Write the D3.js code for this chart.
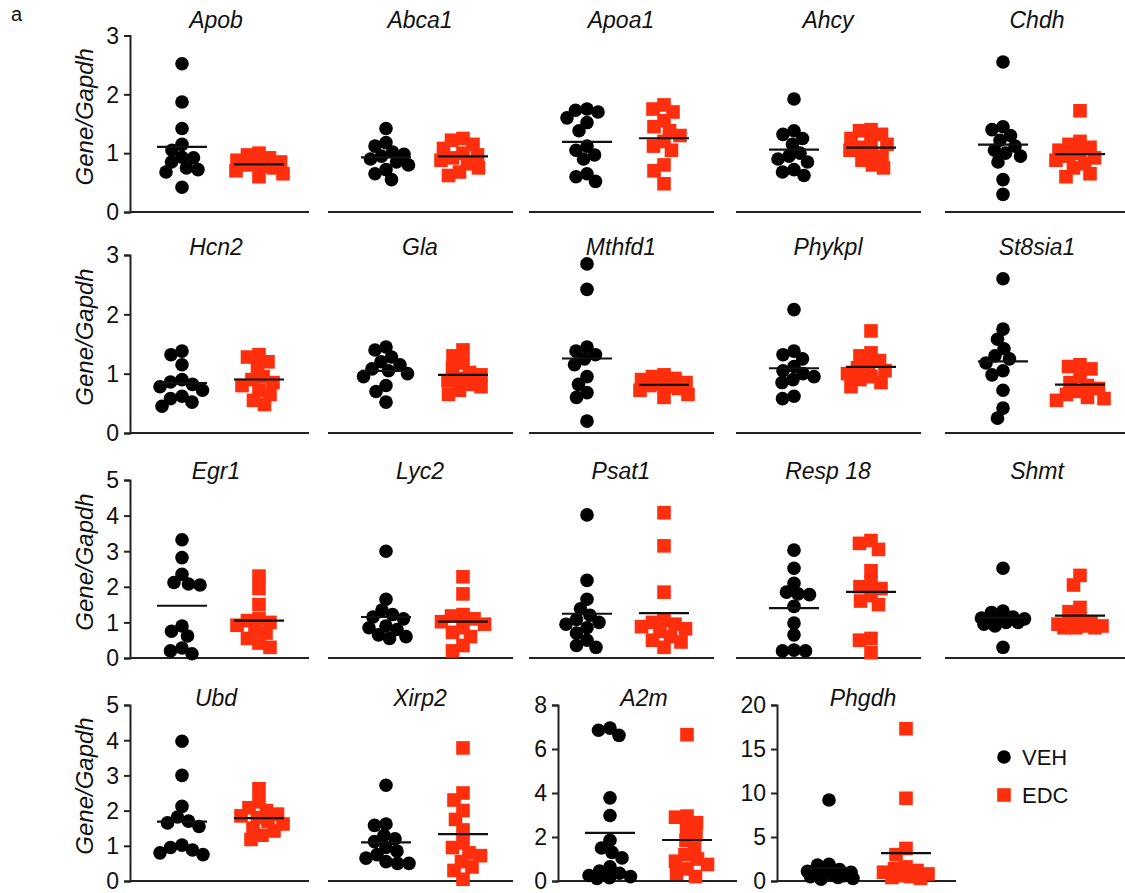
<!DOCTYPE html>
<html><head><meta charset="utf-8">
<script src="https://cdn.jsdelivr.net/npm/d3@7"></script>
<style>
body{margin:0;background:#fff}
svg{display:block}
text{font-family:Arial,"Liberation Sans",Helvetica,sans-serif;fill:#111}
</style>
</head><body>
<svg id="chart" width="1125" height="893"></svg>
<script>
// ---------- DATA ----------
const groups = ["VEH", "EDC"];
const ticks3 = [0, 1, 2, 3];
const ticks5 = [0, 1, 2, 3, 4, 5];
const ticks8 = [0, 2, 4, 6, 8];
const ticks20 = [0, 5, 10, 15, 20];

const row1Genes = ["Apob", "Abca1", "Apoa1", "Ahcy", "Chdh"];
const row2Genes = ["Hcn2", "Gla", "Mthfd1", "Phykpl", "St8sia1"];
const row3Genes = ["Egr1", "Lyc2", "Psat1", "Resp 18", "Shmt"];
const row4Genes = ["Ubd", "Xirp2", "A2m", "Phgdh"];

const apobVEH  = [2.52, 1.87, 1.42, 1.15, 1.05, 0.93, 0.92, 0.85, 0.75, 0.72, 0.68, 0.42];
const apobEDC  = [1.0, 0.97, 0.92, 0.88, 0.85, 0.83, 0.8, 0.78, 0.75, 0.7, 0.65, 0.6];
const abca1VEH = [1.42, 1.18, 1.12, 1.02, 0.98, 0.95, 0.9, 0.85, 0.8, 0.72, 0.65, 0.55];
const abca1EDC = [1.25, 1.22, 1.15, 1.08, 1.0, 0.97, 0.92, 0.88, 0.82, 0.75, 0.68, 0.62];
const apoa1VEH = [1.75, 1.73, 1.7, 1.6, 1.52, 1.38, 1.12, 1.05, 0.97, 0.9, 0.65, 0.6, 0.52];
const apoa1EDC = [1.82, 1.75, 1.7, 1.55, 1.45, 1.38, 1.3, 1.2, 1.12, 1.05, 0.8, 0.7, 0.48];
const ahcyVEH  = [1.92, 1.38, 1.32, 1.25, 1.15, 1.0, 0.95, 0.9, 0.85, 0.72, 0.68, 0.62];
const ahcyEDC  = [1.4, 1.38, 1.32, 1.25, 1.2, 1.15, 1.1, 1.05, 1.0, 0.95, 0.88, 0.8, 0.75];
const chdhVEH  = [2.55, 1.45, 1.4, 1.3, 1.22, 1.12, 1.05, 1.0, 0.95, 0.85, 0.55, 0.3];
const chdhEDC  = [1.72, 1.2, 1.15, 1.1, 1.05, 1.0, 0.95, 0.92, 0.88, 0.82, 0.75, 0.65, 0.6];

const hcn2VEH    = [1.38, 1.32, 1.15, 0.9, 0.86, 0.82, 0.78, 0.72, 0.62, 0.58, 0.52, 0.45];
const hcn2EDC    = [1.32, 1.28, 1.2, 1.12, 0.95, 0.9, 0.85, 0.8, 0.72, 0.65, 0.55, 0.48];
const glaVEH     = [1.45, 1.4, 1.28, 1.2, 1.15, 1.08, 1.05, 1.0, 0.95, 0.8, 0.7, 0.52];
const glaEDC     = [1.4, 1.3, 1.18, 1.1, 1.02, 0.98, 0.92, 0.88, 0.82, 0.78, 0.72, 0.65];
const mthfd1VEH  = [2.85, 2.42, 1.45, 1.38, 1.32, 1.25, 1.15, 0.95, 0.82, 0.68, 0.6, 0.2];
const mthfd1EDC  = [0.98, 0.95, 0.92, 0.9, 0.85, 0.82, 0.8, 0.78, 0.75, 0.72, 0.65, 0.6];
const phykplVEH  = [2.08, 1.38, 1.32, 1.25, 1.12, 1.05, 1.0, 0.95, 0.9, 0.85, 0.62, 0.58];
const phykplEDC  = [1.72, 1.35, 1.3, 1.22, 1.15, 1.1, 1.05, 1.0, 0.95, 0.9, 0.85, 0.78];
const st8sia1VEH = [2.6, 1.75, 1.58, 1.42, 1.3, 1.25, 1.18, 1.05, 0.98, 0.72, 0.42, 0.25];
const st8sia1EDC = [1.15, 1.12, 1.08, 0.95, 0.85, 0.8, 0.75, 0.7, 0.65, 0.6, 0.58, 0.55];

const egr1VEH   = [3.32, 2.82, 2.35, 2.12, 2.08, 2.05, 0.9, 0.75, 0.62, 0.28, 0.2, 0.12];
const egr1EDC   = [2.3, 1.95, 1.5, 1.1, 1.05, 1.0, 0.92, 0.8, 0.7, 0.55, 0.42, 0.3];
const lyc2VEH   = [3.0, 1.65, 1.35, 1.22, 1.15, 1.1, 0.9, 0.85, 0.8, 0.65, 0.6, 0.55];
const lyc2EDC   = [2.28, 1.8, 1.22, 1.18, 1.1, 1.02, 0.95, 0.85, 0.72, 0.6, 0.35, 0.2];
const psat1VEH  = [4.02, 2.18, 1.65, 1.38, 1.2, 1.08, 1.0, 0.95, 0.85, 0.7, 0.5, 0.35, 0.3];
const psat1EDC  = [4.08, 3.15, 1.85, 1.05, 1.0, 0.95, 0.88, 0.82, 0.75, 0.6, 0.5, 0.45, 0.3];
const resp18VEH = [3.03, 2.52, 2.1, 1.85, 1.8, 1.78, 1.45, 0.98, 0.65, 0.22, 0.2, 0.2];
const resp18EDC = [3.3, 3.22, 3.05, 2.45, 2.12, 2.0, 1.95, 1.75, 1.6, 1.5, 0.55, 0.5, 0.15];
const shmtVEH   = [2.52, 1.32, 1.28, 1.15, 1.1, 1.12, 1.1, 1.05, 1.0, 1.0, 0.95, 0.9, 0.3];
const shmtEDC   = [2.32, 2.05, 1.42, 1.3, 1.1, 1.0, 0.95, 0.9, 0.95, 0.9, 0.85, 0.85, 0.85];

const ubdVEH   = [3.97, 3.0, 2.12, 1.82, 1.7, 1.65, 1.55, 1.02, 0.95, 0.88, 0.8, 0.75];
const ubdEDC   = [2.62, 2.25, 2.08, 2.0, 1.9, 1.85, 1.8, 1.7, 1.62, 1.5, 1.42, 1.3, 1.18];
const xirp2VEH = [2.72, 1.62, 1.58, 1.3, 1.2, 1.12, 0.95, 0.85, 0.75, 0.65, 0.55, 0.5, 0.5];
const xirp2EDC = [3.78, 2.5, 2.3, 2.0, 1.75, 1.45, 1.08, 0.95, 0.8, 0.72, 0.55, 0.4, 0.3, 0.05];
const a2mVEH   = [6.95, 6.85, 6.62, 3.78, 2.98, 1.85, 1.5, 1.3, 1.05, 0.65, 0.45, 0.35, 0.25, 0.2, 0.15, 0.12];
const a2mEDC   = [6.65, 2.95, 2.9, 2.65, 2.4, 2.1, 1.85, 1.5, 1.2, 1.0, 0.9, 0.75, 0.55, 0.35, 0.2];
const phgdhVEH = [9.2, 1.9, 1.8, 1.3, 1.1, 1.0, 0.9, 0.8, 0.7, 0.6, 0.5, 0.4, 0.3, 0.2];
const phgdhEDC = [17.3, 9.4, 3.7, 3.0, 1.6, 1.4, 1.2, 1.0, 0.8, 0.6, 0.5, 0.4, 0.3];

// ---------- LAYOUT ----------
const W = 1125, H = 893;
const RED = "#ff2e0d";
const FONT = "Arial, 'Liberation Sans', sans-serif";
const svg = d3.select("#chart");

const rows = [
  {genes: row1Genes, vals: [[apobVEH, apobEDC],[abca1VEH, abca1EDC],[apoa1VEH, apoa1EDC],[ahcyVEH, ahcyEDC],[chdhVEH, chdhEDC]],
   lefts: [124, 328, 529, 736, 945], yAxis: [true,false,false,false,false], ticks: [ticks3], y0: 212, y1: 35.5, titleY: 28},
  {genes: row2Genes, vals: [[hcn2VEH, hcn2EDC],[glaVEH, glaEDC],[mthfd1VEH, mthfd1EDC],[phykplVEH, phykplEDC],[st8sia1VEH, st8sia1EDC]],
   lefts: [124, 328, 529, 736, 945], yAxis: [true,false,false,false,false], ticks: [ticks3], y0: 433, y1: 255, titleY: 255},
  {genes: row3Genes, vals: [[egr1VEH, egr1EDC],[lyc2VEH, lyc2EDC],[psat1VEH, psat1EDC],[resp18VEH, resp18EDC],[shmtVEH, shmtEDC]],
   lefts: [124, 328, 529, 736, 945], yAxis: [true,false,false,false,false], ticks: [ticks5], y0: 658, y1: 480, titleY: 479},
  {genes: row4Genes, vals: [[ubdVEH, ubdEDC],[xirp2VEH, xirp2EDC],[a2mVEH, a2mEDC],[phgdhVEH, phgdhEDC]],
   lefts: [124, 328, 552, 771], yAxis: [true,false,true,true], ticks: [ticks5, ticks5, ticks8, ticks20], y0: 881, y1: 705, titleY: 706}
];

// Prism-like scatter: spread points sideways, allow overlap when crowded
function swarm(values, yScale, cx, D, maxDx) {
  const pts = values.map(v => ({v, y: yScale(v)})).sort((a, b) => a.y - b.y);
  const placed = [];
  const grid = d3.range(-maxDx, maxDx + 0.001, 0.5);
  for (const p of pts) {
    let best = null, bestOv = Infinity;
    const cands = grid.slice().sort((a, b) => Math.abs(a) - Math.abs(b));
    for (const c of cands) {
      let ov = 0;
      for (const q of placed) {
        const d = Math.hypot(c - q.dx, p.y - q.y);
        if (d < D) ov = Math.max(ov, D - d);
      }
      ov = Math.round(ov * 4) / 4;
      if (ov < bestOv - 1e-9) { bestOv = ov; best = c; }
      if (bestOv === 0) break;
    }
    p.dx = best;
    placed.push(p);
  }
  return placed.map(p => ({v: p.v, x: cx + p.dx, y: p.y}));
}

// panel label "a"
svg.append("text").attr("x", 11).attr("y", 21).attr("font-size", 20).text("a");

rows.forEach((row) => {
  row.genes.forEach((gene, i) => {
    const left = row.lefts[i];
    const ticks = row.ticks[Math.min(i, row.ticks.length - 1)];
    const yMax = d3.max(ticks);
    const y = d3.scaleLinear().domain([0, yMax]).range([row.y0, row.y1]);
    const x = d3.scalePoint().domain(groups).range([left + 58, left + 135]);
    const g = svg.append("g");
    const axisX = left + 6;
    const lineStart = row.yAxis[i] ? axisX : left;
    const lineEnd = Math.min(left + 185, W);

    g.append("line").attr("x1", lineStart).attr("x2", lineEnd)
      .attr("y1", row.y0).attr("y2", row.y0)
      .attr("stroke", "#222").attr("stroke-width", 2);

    if (row.yAxis[i]) {
      const ax = g.append("g").attr("transform", `translate(${axisX},0)`)
        .call(d3.axisLeft(y).tickValues(ticks).tickSize(6).tickPadding(5).tickFormat(d3.format("d")));
      ax.select(".domain").attr("stroke", "#222").attr("stroke-width", 2);
      ax.selectAll(".tick line").attr("stroke", "#222").attr("stroke-width", 2);
      ax.selectAll(".tick text").attr("font-size", 23).attr("fill", "#111")
        .attr("font-family", FONT).attr("dy", "0.34em");
      if (i === 0) {
        svg.append("text")
          .attr("transform", `translate(84,${(row.y0 + row.y1) / 2 - 7}) rotate(-90)`)
          .attr("text-anchor", "middle").attr("dominant-baseline", "central")
          .attr("font-size", 24).attr("font-style", "italic").text("Gene/Gapdh");
      }
    }

    g.append("text").attr("x", left + 92).attr("y", row.titleY)
      .attr("text-anchor", "middle").attr("font-size", 23).attr("font-style", "italic").text(gene);

    groups.forEach((grp, gi) => {
      const vals = row.vals[i][gi];
      const cx = x(grp);
      const pts = swarm(vals, y, cx, 11.5, 24);
      if (gi === 0) {
        g.selectAll(null).data(pts).enter().append("circle")
          .attr("cx", d => d.x).attr("cy", d => d.y).attr("r", 6.8).attr("fill", "#000");
      } else {
        g.selectAll(null).data(pts).enter().append("rect")
          .attr("x", d => d.x - 6.8).attr("y", d => d.y - 6.8)
          .attr("width", 13.6).attr("height", 13.6).attr("fill", RED);
      }
      const m = d3.mean(vals);
      g.append("line").attr("x1", cx - 25).attr("x2", cx + 25)
        .attr("y1", y(m)).attr("y2", y(m))
        .attr("stroke", "#111").attr("stroke-width", 2.2);
    });
  });
});

// legend
const legend = svg.append("g");
const legY = d3.scalePoint().domain(groups).range([757, 795]);
groups.forEach((grp, gi) => {
  const yy = legY(grp);
  if (gi === 0) legend.append("circle").attr("cx", 1004).attr("cy", yy).attr("r", 6.8).attr("fill", "#000");
  else legend.append("rect").attr("x", 997.2).attr("y", yy - 6.8).attr("width", 13.6).attr("height", 13.6).attr("fill", RED);
  legend.append("text").attr("x", 1022).attr("y", yy).attr("dy", "0.36em")
    .attr("font-size", 22).text(grp);
});
</script>
</body></html>
